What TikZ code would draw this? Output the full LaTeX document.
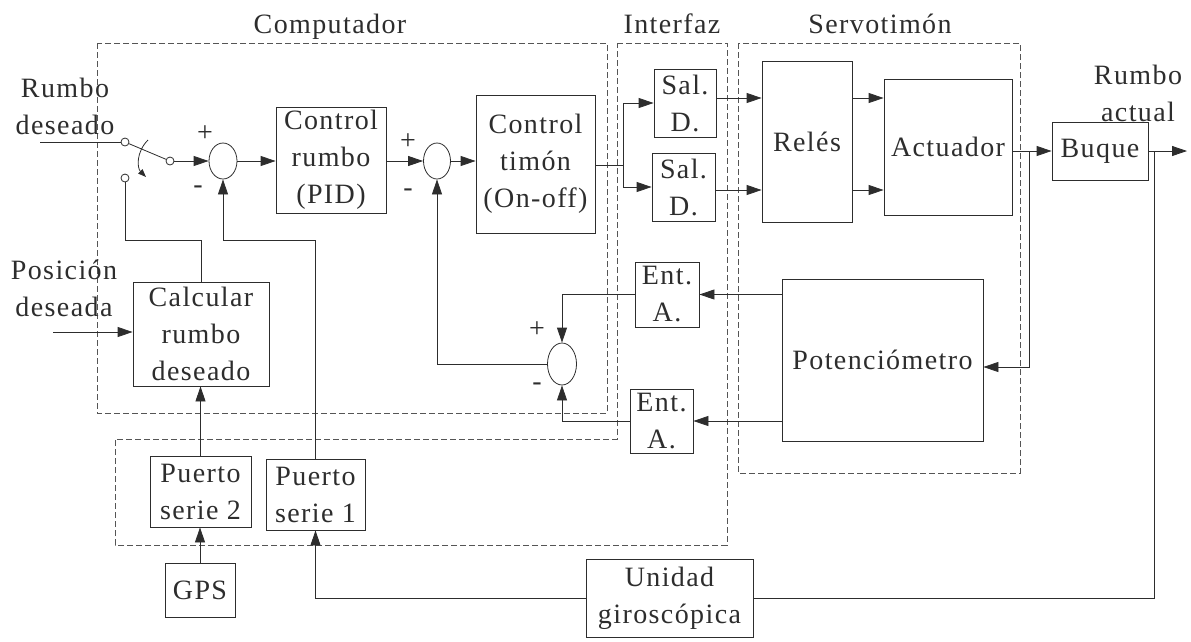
\documentclass[tikz,border=0pt]{standalone}
\usepackage{fontspec}
\setmainfont{Liberation Serif}[LetterSpace=5]
\usepackage{tikz}
\definecolor{ink}{RGB}{45,45,45}
\definecolor{framegray}{RGB}{85,85,85}
\usetikzlibrary{arrows.meta, shapes.geometric, calc}

\begin{document}
\begin{tikzpicture}[x=1pt, y=-1pt, line width=0.8pt, color=ink,
    font=\fontsize{28}{37}\selectfont,
    >={Triangle[length=15pt,width=10pt]},
    blk/.style 2 args={draw, rectangle, inner sep=0pt, align=center,
                       minimum width=#1pt, minimum height=#2pt},
    sum/.style 2 args={draw, ellipse, inner sep=0pt,
                       minimum width=#1pt, minimum height=#2pt},
    pin/.style={draw, circle, fill=white, inner sep=0pt, minimum size=8pt},
    zone/.style={draw=framegray, dash pattern=on 6pt off 3pt, line width=0.7pt},
    lbl/.style={align=center, inner sep=0pt}
]
    \useasboundingbox (0,0) rectangle (1191,641);

    % zonas
    \draw[zone] (97,43) rectangle (607,413);
    \draw[zone] (617,43) -- (727,43) -- (727,545) -- (115,545) -- (115,439) -- (617,439) -- cycle;
    \draw[zone] (738,43) rectangle (1020,473);

    \node[lbl, anchor=base] (tcomp) at (330,33) {Computador};
    \node[lbl, anchor=base] (tint) at (672,33) {Interfaz};
    \node[lbl, anchor=base] (tservo) at (880,33) {Servotimón};

    % bloques
    \node[blk={110}{106}] (pid) at (331,160) {Control\\rumbo\\(PID)};
    \node[blk={119}{138}] (timon) at (535.5,164) {Control\\timón\\(On-off)};
    \node[blk={62}{68}] (sal1) at (685,103) {Sal.\\D.};
    \node[blk={63}{68}] (sal2) at (683.5,187) {Sal.\\D.};
    \node[blk={90}{161}] (reles) at (807,141.5) {Relés};
    \node[blk={128}{136}] (act) at (948,147) {Actuador};
    \node[blk={96}{58}] (buque) at (1100,151) {Buque};
    \node[blk={201}{162}] (pot) at (882.5,360) {Potenciómetro};
    \node[blk={64}{65}] (enta1) at (667,294.5) {Ent.\\A.};
    \node[blk={63}{64}] (enta2) at (661.5,421) {Ent.\\A.};
    \node[blk={136}{104}] (calc) at (201,334) {Calcular\\rumbo\\deseado};
    \node[blk={101}{71}] (ps2) at (200.5,491.5) {Puerto\\serie 2};
    \node[blk={99}{71}] (ps1) at (315.5,494.5) {Puerto\\serie 1};
    \node[blk={70}{54}] (gps) at (200,590) {GPS};
    \node[blk={167}{78}] (giro) at (669.5,598) {Unidad\\giroscópica};

    % sumadores
    \node[sum={28}{36}] (s1) at (223,161) {};
    \node[sum={27}{36}] (s2) at (437,161) {};
    \node[sum={29}{42}] (s3) at (562,364) {};
    \node (s1p) at (205,134) {+};
    \node (s1m) at (198,190) {-};
    \node (s2p) at (408,142) {+};
    \node (s2m) at (408,193) {-};
    \node (s3p) at (537,330) {+};
    \node (s3m) at (537,387) {-};

    % conmutador
    \node[pin] (p1) at (125,142) {};
    \node[pin] (p2) at (170,161) {};
    \node[pin] (p3) at (125,178) {};
    \draw[-{Triangle[length=8pt,width=6pt]}] (148,140) .. controls (136,152) and (137,168) .. (146,177);

    \node[lbl] (rd) at (65,106) {Rumbo\\deseado};
    \node[lbl] (pd) at (64,288) {Posición\\deseada};
    \node[lbl] (ra) at (1138,93) {Rumbo\\actual};

    \coordinate (rdin) at (40,142);
    \coordinate (pdin) at (53,332);
    \coordinate (split) at (623,165);
    \coordinate (tapA) at (1029,151);
    \coordinate (tapB) at (1154,151);
    \coordinate (out) at (1187,151);
    \coordinate (fb1) at (223,240);
    \coordinate (fb2) at (201,240);

    % lazo directo
    \draw (rdin) -- (p1);
    \draw (p1) -- (p2);
    \draw[->] (p2) -- (s1);
    \draw[->] (s1) -- (s1 -| pid.west);
    \draw[->] (pid.east |- s2) -- (s2);
    \draw[->] (s2) -- (s2 -| timon.west);
    \draw (timon.east |- split) -- (split);
    \draw[->] (split) |- (sal1);
    \draw[->] (split) |- (sal2);
    \draw[->] ([yshift=5pt]sal1.east) -- ([yshift=5pt]sal1.east -| reles.west);
    \draw[->] ([yshift=-3pt]sal2.east) -- ([yshift=-3pt]sal2.east -| reles.west);
    \draw[->] ([yshift=5pt]sal1.east -| reles.east) -- ([yshift=5pt]sal1.east -| act.west);
    \draw[->] ([yshift=-3pt]sal2.east -| reles.east) -- ([yshift=-3pt]sal2.east -| act.west);
    \draw[->] (act.east |- buque) -- (buque);
    \draw[->] (buque) -- (out);

    % realimentaciones
    \draw[->] (tapA) |- ([yshift=-7pt]pot.east);
    \draw[->] (pot.west |- enta1) -- (enta1);
    \draw[->] (pot.west |- enta2) -- (enta2);
    \draw[->] (enta1) -| (s3);
    \draw[->] (enta2) -| (s3);
    \draw[->] (s3) -| (s2);
    \draw[->] (ps1) |- (fb1) -- (s1);
    \draw (p3) |- (fb2) -- (calc);
    \draw[->] (pdin) -- (pdin -| calc.west);
    \draw[->] (ps2.north) -- (ps2.north |- calc.south);
    \draw[->] (gps.north) -- (gps.north |- ps2.south);
    \draw (tapB) |- (giro);
    \draw[->] (giro) -| (ps1);
\end{tikzpicture}
\end{document}
